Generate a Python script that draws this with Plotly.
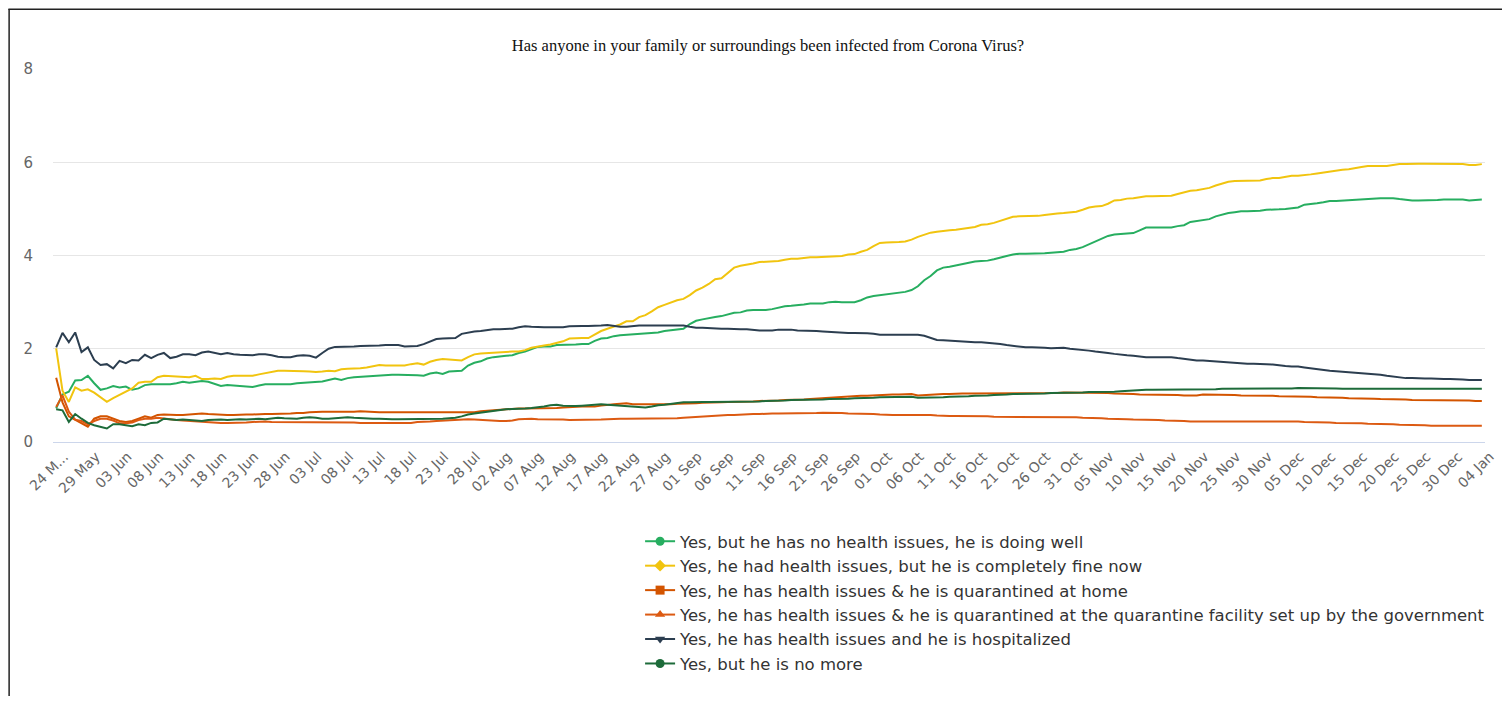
import pandas as pd
import plotly.graph_objects as go

# ---------------- data ----------------
dates = pd.date_range("2020-05-24", "2021-01-04", freq="D")
categories = [d.strftime("%d %b") for d in dates]

no_issues_doing_well = [
    0.72, 1.02, 1.08, 1.32, 1.33, 1.42, 1.26, 1.12, 1.15, 1.20,
    1.17, 1.19, 1.12, 1.15, 1.22, 1.24, 1.24, 1.24, 1.24, 1.26,
    1.29, 1.27, 1.29, 1.31, 1.29, 1.24, 1.20, 1.22, 1.21, 1.20,
    1.19, 1.18, 1.21, 1.24, 1.24, 1.24, 1.24, 1.24, 1.26, 1.27,
    1.29, 1.30, 1.30, 1.33, 1.36, 1.33, 1.37,
    1.39, 1.40, 1.40, 1.41, 1.43, 1.43, 1.44, 1.44, 1.44, 1.43,
    1.43, 1.42, 1.47, 1.49, 1.46, 1.51, 1.52, 1.53, 1.64, 1.70,
    1.73, 1.79, 1.82, 1.84, 1.85, 1.86, 1.91, 1.94, 1.99, 2.04,
    2.05, 2.05, 2.08, 2.08, 2.09, 2.09, 2.10, 2.10, 2.17, 2.22,
    2.23, 2.27, 2.29, 2.30,
    2.31, 2.32, 2.33, 2.34, 2.35, 2.38, 2.40, 2.41, 2.43, 2.53,
    2.60, 2.63, 2.66, 2.68, 2.70, 2.74, 2.77, 2.78, 2.82, 2.83,
    2.83, 2.83, 2.85, 2.88, 2.91, 2.92, 2.93, 2.95, 2.97, 2.97,
    2.97, 3.00, 3.01, 3.00, 3.00, 3.00, 3.04, 3.10, 3.13, 3.15,
    3.16, 3.19, 3.20, 3.22, 3.26,
    3.34, 3.47, 3.56, 3.68, 3.74, 3.76, 3.79, 3.82, 3.85, 3.87,
    3.88, 3.89, 3.92, 3.96, 3.99, 4.02, 4.04, 4.04, 4.04, 4.04,
    4.05, 4.06, 4.07, 4.08, 4.12, 4.14, 4.18, 4.24, 4.30, 4.36,
    4.42, 4.45, 4.46, 4.47, 4.48, 4.54, 4.60, 4.60, 4.60, 4.60,
    4.60, 4.63, 4.65, 4.72, 4.74,
    4.77, 4.78, 4.84, 4.88, 4.91, 4.93, 4.95, 4.95, 4.95, 4.96,
    4.98, 4.98, 4.99, 5.00, 5.01, 5.03, 5.09, 5.10, 5.12, 5.14,
    5.17, 5.17, 5.18, 5.19, 5.20, 5.21, 5.22, 5.23, 5.23, 5.23,
    5.23, 5.21, 5.19, 5.18, 5.18, 5.18, 5.19, 5.19, 5.20, 5.20,
    5.20, 5.20, 5.18, 5.19, 5.20,
]

had_issues_fine_now = [
    2.01, 1.10, 0.86, 1.17, 1.10, 1.13, 1.06, 0.96, 0.86, 0.94,
    1.01, 1.08, 1.15, 1.27, 1.29, 1.29, 1.39, 1.42, 1.41, 1.40,
    1.39, 1.39, 1.42, 1.35, 1.35, 1.36, 1.35, 1.40, 1.42, 1.42,
    1.42, 1.42, 1.45, 1.48, 1.50, 1.53, 1.53, 1.53, 1.52, 1.52,
    1.51, 1.50, 1.51, 1.53, 1.52, 1.56, 1.57,
    1.57, 1.58, 1.60, 1.63, 1.65, 1.64, 1.64, 1.64, 1.64, 1.67,
    1.69, 1.66, 1.72, 1.76, 1.78, 1.77, 1.76, 1.75, 1.82, 1.88,
    1.90, 1.91, 1.92, 1.93, 1.93, 1.94, 1.94, 1.97, 2.02, 2.05,
    2.07, 2.09, 2.13, 2.16, 2.22, 2.23, 2.23, 2.23, 2.30, 2.38,
    2.43, 2.47, 2.52, 2.59,
    2.59, 2.68, 2.72, 2.80, 2.89, 2.94, 2.99, 3.04, 3.07, 3.15,
    3.25, 3.31, 3.39, 3.49, 3.51, 3.62, 3.74, 3.78, 3.80, 3.83,
    3.86, 3.87, 3.88, 3.88, 3.91, 3.93, 3.93, 3.95, 3.96, 3.96,
    3.97, 3.98, 3.99, 3.99, 4.02, 4.03, 4.08, 4.12, 4.20, 4.27,
    4.28, 4.28, 4.29, 4.30, 4.34,
    4.40, 4.45, 4.49, 4.51, 4.53, 4.54, 4.55, 4.57, 4.59, 4.61,
    4.66, 4.67, 4.70, 4.74, 4.78, 4.83, 4.84, 4.84, 4.84, 4.85,
    4.87, 4.89, 4.90, 4.91, 4.92, 4.94, 4.98, 5.03, 5.05, 5.06,
    5.11, 5.18, 5.19, 5.22, 5.23, 5.25, 5.27, 5.27, 5.27, 5.27,
    5.28, 5.32, 5.36, 5.39, 5.40,
    5.43, 5.45, 5.50, 5.54, 5.58, 5.60, 5.60, 5.60, 5.60, 5.61,
    5.64, 5.66, 5.66, 5.69, 5.71, 5.71, 5.72, 5.74, 5.76, 5.78,
    5.80, 5.83, 5.84, 5.85, 5.88, 5.90, 5.92, 5.92, 5.92, 5.92,
    5.94, 5.96, 5.96, 5.97, 5.97, 5.97, 5.97, 5.97, 5.97, 5.97,
    5.97, 5.96, 5.94, 5.94, 5.96,
]

quarantined_home = [
    1.38, 0.85, 0.55, 0.48, 0.40, 0.33, 0.50, 0.55, 0.55, 0.50,
    0.45, 0.43, 0.45, 0.50, 0.55, 0.52, 0.58, 0.59, 0.58, 0.58,
    0.58, 0.59, 0.60, 0.61, 0.60, 0.59, 0.58, 0.58, 0.58, 0.59,
    0.59, 0.59, 0.60, 0.60, 0.60, 0.60, 0.60, 0.61, 0.62, 0.62,
    0.64, 0.65, 0.65, 0.65, 0.65, 0.64, 0.64,
    0.65, 0.66, 0.65, 0.65, 0.64, 0.64, 0.64, 0.64, 0.64, 0.63,
    0.63, 0.63, 0.63, 0.63, 0.63, 0.63, 0.63, 0.63, 0.63, 0.64,
    0.66, 0.67, 0.68, 0.70, 0.70, 0.71, 0.72, 0.72, 0.72, 0.72,
    0.72, 0.72, 0.73, 0.74, 0.75, 0.76, 0.76, 0.76, 0.76, 0.78,
    0.80, 0.81, 0.82, 0.83,
    0.81, 0.81, 0.80, 0.80, 0.80, 0.80, 0.81, 0.82, 0.82, 0.83,
    0.83, 0.84, 0.84, 0.85, 0.85, 0.86, 0.86, 0.86, 0.87, 0.87,
    0.88, 0.88, 0.89, 0.89, 0.90, 0.90, 0.91, 0.91, 0.92, 0.93,
    0.93, 0.94, 0.95, 0.96, 0.97, 0.98, 0.99, 0.99, 1.00, 1.01,
    1.01, 1.02, 1.02, 1.03, 1.03,
    1.00, 1.01, 1.02, 1.03, 1.03, 1.03, 1.04, 1.04, 1.04, 1.04,
    1.04, 1.04, 1.04, 1.04, 1.04, 1.04, 1.05, 1.05, 1.05, 1.05,
    1.05, 1.05, 1.05, 1.06, 1.06, 1.06, 1.06, 1.05, 1.05, 1.05,
    1.05, 1.04, 1.04, 1.03, 1.03, 1.02, 1.02, 1.02, 1.02, 1.01,
    1.01, 1.01, 1.00, 1.00, 1.00,
    1.02, 1.02, 1.02, 1.01, 1.01, 1.01, 1.00, 1.00, 1.00, 0.99,
    0.99, 0.99, 0.98, 0.98, 0.97, 0.97, 0.97, 0.97, 0.96, 0.96,
    0.96, 0.95, 0.95, 0.94, 0.94, 0.94, 0.93, 0.93, 0.92, 0.92,
    0.92, 0.91, 0.91, 0.90, 0.90, 0.90, 0.90, 0.90, 0.90, 0.89,
    0.89, 0.89, 0.89, 0.88, 0.88,
]

quarantined_facility = [
    0.75, 1.00, 0.65, 0.48, 0.45, 0.38, 0.45, 0.50, 0.50, 0.46,
    0.40, 0.40, 0.42, 0.47, 0.50, 0.50, 0.52, 0.50, 0.48, 0.47,
    0.46, 0.45, 0.45, 0.44, 0.43, 0.42, 0.41, 0.41, 0.41, 0.41,
    0.42, 0.43, 0.44, 0.44, 0.43, 0.43, 0.43, 0.43, 0.42, 0.42,
    0.42, 0.43, 0.43, 0.42, 0.42, 0.43, 0.43,
    0.42, 0.41, 0.41, 0.40, 0.40, 0.40, 0.40, 0.40, 0.40, 0.41,
    0.43, 0.43, 0.44, 0.45, 0.46, 0.47, 0.47, 0.48, 0.49, 0.48,
    0.47, 0.47, 0.46, 0.45, 0.45, 0.46, 0.49, 0.50, 0.50, 0.49,
    0.49, 0.49, 0.49, 0.48, 0.47, 0.47, 0.47, 0.47, 0.47, 0.48,
    0.49, 0.50, 0.50, 0.50,
    0.50, 0.50, 0.50, 0.50, 0.50, 0.50, 0.50, 0.51, 0.52, 0.53,
    0.54, 0.55, 0.56, 0.57, 0.57, 0.58, 0.58, 0.59, 0.59, 0.60,
    0.60, 0.61, 0.61, 0.61, 0.61, 0.61, 0.61, 0.62, 0.62, 0.62,
    0.63, 0.63, 0.62, 0.62, 0.61, 0.61, 0.61, 0.61, 0.60, 0.59,
    0.58, 0.58, 0.58, 0.58, 0.58,
    0.59, 0.58, 0.58, 0.57, 0.56, 0.56, 0.56, 0.56, 0.55, 0.55,
    0.55, 0.55, 0.54, 0.54, 0.54, 0.53, 0.53, 0.53, 0.53, 0.53,
    0.53, 0.53, 0.53, 0.53, 0.53, 0.53, 0.52, 0.52, 0.51, 0.51,
    0.50, 0.50, 0.49, 0.49, 0.48, 0.48, 0.47, 0.47, 0.47, 0.46,
    0.46, 0.45, 0.45, 0.44, 0.44,
    0.44, 0.44, 0.45, 0.45, 0.45, 0.45, 0.45, 0.45, 0.45, 0.45,
    0.45, 0.45, 0.44, 0.44, 0.44, 0.44, 0.43, 0.43, 0.43, 0.42,
    0.42, 0.41, 0.41, 0.41, 0.40, 0.40, 0.39, 0.39, 0.38, 0.38,
    0.38, 0.37, 0.37, 0.36, 0.36, 0.36, 0.35, 0.35, 0.35, 0.35,
    0.35, 0.35, 0.35, 0.35, 0.35,
]

hospitalized = [
    2.03, 2.34, 2.14, 2.35, 1.93, 2.03, 1.76, 1.65, 1.67, 1.58,
    1.74, 1.69, 1.76, 1.75, 1.87, 1.80, 1.87, 1.91, 1.80, 1.83,
    1.88, 1.88, 1.86, 1.92, 1.94, 1.91, 1.88, 1.91, 1.88, 1.87,
    1.86, 1.86, 1.88, 1.88, 1.86, 1.83, 1.82, 1.82, 1.85, 1.86,
    1.85, 1.81, 1.91, 2.00, 2.04, 2.04, 2.05,
    2.05, 2.06, 2.06, 2.07, 2.07, 2.08, 2.08, 2.08, 2.05, 2.05,
    2.06, 2.10, 2.15, 2.21, 2.22, 2.23, 2.23, 2.32, 2.35, 2.37,
    2.38, 2.40, 2.42, 2.42, 2.43, 2.43, 2.46, 2.48, 2.47, 2.46,
    2.46, 2.46, 2.46, 2.46, 2.48, 2.49, 2.49, 2.49, 2.49, 2.50,
    2.51, 2.49, 2.47, 2.47,
    2.49, 2.50, 2.50, 2.50, 2.50, 2.50, 2.50, 2.50, 2.50, 2.47,
    2.45, 2.45, 2.44, 2.44, 2.43, 2.43, 2.42, 2.42, 2.42, 2.40,
    2.39, 2.39, 2.39, 2.41, 2.41, 2.41, 2.39, 2.39, 2.38, 2.38,
    2.37, 2.36, 2.36, 2.35, 2.34, 2.34, 2.34, 2.33, 2.32, 2.30,
    2.30, 2.30, 2.30, 2.29, 2.29,
    2.30, 2.28, 2.24, 2.19, 2.18, 2.17, 2.17, 2.16, 2.15, 2.14,
    2.14, 2.13, 2.12, 2.10, 2.08, 2.06, 2.04, 2.03, 2.03, 2.03,
    2.02, 2.01, 2.02, 2.02, 2.00, 1.99, 1.98, 1.96, 1.94, 1.93,
    1.91, 1.89, 1.87, 1.86, 1.85, 1.83, 1.82, 1.82, 1.82, 1.82,
    1.82, 1.80, 1.78, 1.76, 1.75,
    1.75, 1.74, 1.73, 1.72, 1.71, 1.70, 1.68, 1.68, 1.68, 1.68,
    1.67, 1.66, 1.64, 1.63, 1.62, 1.62, 1.60, 1.58, 1.56, 1.54,
    1.53, 1.52, 1.51, 1.50, 1.49, 1.47, 1.46, 1.45, 1.44, 1.42,
    1.40, 1.38, 1.37, 1.37, 1.36, 1.36, 1.36, 1.35, 1.35, 1.35,
    1.35, 1.34, 1.33, 1.33, 1.33,
]

no_more = [
    0.70, 0.68, 0.43, 0.60, 0.50, 0.41, 0.36, 0.32, 0.29, 0.38,
    0.38, 0.36, 0.34, 0.38, 0.36, 0.41, 0.42, 0.50, 0.49, 0.47,
    0.48, 0.47, 0.45, 0.45, 0.47, 0.48, 0.48, 0.47, 0.48, 0.49,
    0.48, 0.49, 0.50, 0.49, 0.50, 0.52, 0.51, 0.50, 0.50, 0.52,
    0.53, 0.52, 0.50, 0.50, 0.51, 0.52, 0.53,
    0.52, 0.51, 0.50, 0.50, 0.50, 0.49, 0.49, 0.49, 0.49, 0.49,
    0.49, 0.49, 0.50, 0.50, 0.50, 0.51, 0.52, 0.55, 0.59, 0.61,
    0.63, 0.65, 0.67, 0.69, 0.70, 0.71, 0.71, 0.72, 0.73, 0.74,
    0.76, 0.79, 0.80, 0.78, 0.77, 0.77, 0.78, 0.79, 0.80, 0.81,
    0.80, 0.79, 0.78, 0.77,
    0.76, 0.75, 0.74, 0.76, 0.79, 0.80, 0.82, 0.84, 0.85, 0.85,
    0.86, 0.86, 0.86, 0.86, 0.86, 0.86, 0.86, 0.87, 0.87, 0.87,
    0.87, 0.88, 0.88, 0.88, 0.89, 0.90, 0.90, 0.90, 0.91, 0.91,
    0.91, 0.92, 0.92, 0.93, 0.93, 0.94, 0.94, 0.95, 0.95, 0.96,
    0.96, 0.96, 0.96, 0.97, 0.97,
    0.95, 0.95, 0.95, 0.96, 0.96, 0.97, 0.97, 0.98, 0.98, 0.99,
    0.99, 1.00, 1.01, 1.01, 1.02, 1.03, 1.03, 1.03, 1.04, 1.04,
    1.04, 1.05, 1.05, 1.05, 1.06, 1.06, 1.06, 1.07, 1.07, 1.08,
    1.08, 1.08, 1.09, 1.10, 1.11, 1.12, 1.12, 1.12, 1.12, 1.12,
    1.12, 1.13, 1.13, 1.13, 1.13,
    1.12, 1.13, 1.13, 1.14, 1.14, 1.14, 1.14, 1.14, 1.14, 1.14,
    1.15, 1.15, 1.15, 1.15, 1.15, 1.16, 1.16, 1.16, 1.16, 1.15,
    1.15, 1.15, 1.14, 1.14, 1.14, 1.14, 1.14, 1.15, 1.15, 1.15,
    1.15, 1.15, 1.14, 1.14, 1.14, 1.14, 1.14, 1.14, 1.14, 1.15,
    1.14, 1.14, 1.14, 1.14, 1.14,
]

series_names = [
    "Yes, but he has no health issues, he is doing well",
    "Yes, he had health issues, but he is completely fine now",
    "Yes, he has health issues & he is quarantined at home",
    "Yes, he has health issues & he is quarantined at the quarantine facility set up by the government",
    "Yes, he has health issues and he is hospitalized",
    "Yes, but he is no more",
]
series_values = [no_issues_doing_well, had_issues_fine_now, quarantined_home,
                 quarantined_facility, hospitalized, no_more]
series_colors = ["#27ae60", "#f1c40f", "#d35400", "#dc5a12", "#2c3e50", "#1d6b3a"]
series_symbols = ["circle", "diamond", "square", "triangle-up", "triangle-down", "circle"]

tick_step = 5
tickvals = categories[::tick_step]
ticktext = list(tickvals)
ticktext[0] = "24 M..."

# ---------------- figure ----------------
# page has an 8px body margin: figure pixel = page pixel - 8
W, H = 1494, 688
L, R, T, B = 45, 5, 61, 254
pw, ph = W - L - R, H - T - B

def px_x(x):
    return (x - L) / pw

def px_y(y):
    return (H - B - y) / ph

fig = go.Figure()
for name, vals, col in zip(series_names, series_values, series_colors):
    fig.add_trace(go.Scatter(
        x=categories, y=vals, mode="lines", name=name,
        line=dict(color=col, width=2), showlegend=False, hoverinfo="x+y+name",
    ))
for i, (name, col, sym) in enumerate(zip(series_names, series_colors, series_symbols)):
    fig.add_trace(go.Scatter(
        x=[None], y=[None], mode="lines+markers", name=name,
        line=dict(color=col, width=2), marker=dict(symbol=sym, color=col, size=9),
        showlegend=True,
    ))

fig.update_layout(
    width=W, height=H,
    margin=dict(l=L, r=R, t=T, b=B),
    paper_bgcolor="white", plot_bgcolor="white",
    title=dict(
        text="Has anyone in your family or surroundings been infected from Corona Virus?",
        font=dict(family="Liberation Serif", size=16.5, color="#111"),
        x=px_x(766), xref="paper", xanchor="center",
        y=1 - 37 / H, yref="container", yanchor="middle",
    ),
    font=dict(family="DejaVu Sans", color="#666"),
    showlegend=True,
    legend=dict(
        x=px_x(637), y=px_y(516), xanchor="left", yanchor="top",
        xref="paper", yref="paper",
        orientation="v", traceorder="normal",
        font=dict(family="DejaVu Sans", size=16.5, color="#333"),
        itemwidth=30, bgcolor="rgba(0,0,0,0)",
    ),
    xaxis=dict(
        type="category", range=[-0.5, len(categories) - 0.5],
        tickmode="array", tickvals=tickvals, ticktext=ticktext,
        tickangle=-45, tickfont=dict(family="DejaVu Sans", size=14, color="#666"),
        ticklabelshift=8,
        showgrid=False, showline=True, linecolor="#ccd6eb", linewidth=1,
        ticks="", zeroline=False,
    ),
    yaxis=dict(
        range=[0, 8], tickvals=[0, 2, 4, 6, 8],
        tickfont=dict(family="DejaVu Sans", size=15, color="#666"),
        showgrid=True, gridcolor="#e6e6e6", gridwidth=1,
        zeroline=True, zerolinecolor="#ccd6eb", zerolinewidth=1,
        showline=False, ticks="", ticklabelstandoff=19,
    ),
    shapes=[
        dict(type="line", xref="paper", yref="paper",
             x0=px_x(0.75), x1=px_x(0.75), y0=px_y(1), y1=px_y(700),
             line=dict(color="#222", width=1.5)),
        dict(type="line", xref="paper", yref="paper",
             x0=px_x(0), x1=px_x(1520), y0=px_y(1.25), y1=px_y(1.25),
             line=dict(color="#222", width=1.5)),
    ],
)

fig.write_html("out.html")
